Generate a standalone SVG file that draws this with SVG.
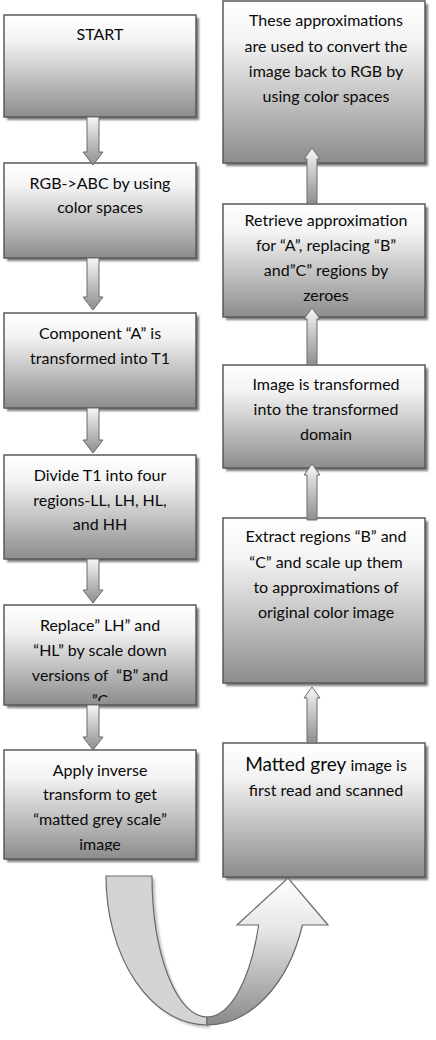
<svg xmlns="http://www.w3.org/2000/svg" width="436" height="1040" viewBox="0 0 436 1040">
  <style>
    .box { fill: url(#boxFill); stroke: #5a5a5a; stroke-width: 1.5; }
    .shadow { fill: #7a7a7a; filter: url(#soft); }
    .lbl { font-family: Lato, "Open Sans", "Liberation Sans", sans-serif; font-size: 16px; fill: #0a0a0a; text-anchor: middle; }
    .big { font-size: 19px; }
    .arrow { fill: url(#arrowFill); stroke: #6a6a6a; stroke-width: 1; }
  </style>
  <defs>
    <linearGradient id="boxFill" x1="0" y1="0" x2="0" y2="1">
      <stop offset="0" stop-color="#ffffff"/>
      <stop offset="0.25" stop-color="#f3f3f3"/>
      <stop offset="1" stop-color="#8c8c8c"/>
    </linearGradient>
    <linearGradient id="arrowFill" x1="0" y1="0" x2="0" y2="1">
      <stop offset="0" stop-color="#f6f6f6"/>
      <stop offset="1" stop-color="#8e8e8e"/>
    </linearGradient>
    <linearGradient id="curveFill" gradientUnits="userSpaceOnUse" x1="0" y1="878" x2="0" y2="1025">
      <stop offset="0" stop-color="#ffffff"/>
      <stop offset="0.35" stop-color="#e6e6e6"/>
      <stop offset="1" stop-color="#8a8a8a"/>
    </linearGradient>
    <filter id="soft" x="-10%" y="-10%" width="120%" height="120%">
      <feGaussianBlur stdDeviation="0.8"/>
    </filter>
    <clipPath id="clipReplace"><rect x="4" y="605" width="192" height="96"/></clipPath>
    <clipPath id="clipApply"><rect x="4" y="750" width="192" height="101"/></clipPath>
  </defs>

  <!-- left column -->
  <g id="start">
    <rect class="shadow" x="7" y="18" width="192" height="102"/>
    <rect class="box" x="4" y="15" width="192" height="102"/>
    <text class="lbl" x="100" y="40">START</text>
  </g>
  <g id="rgb-to-abc">
    <rect class="shadow" x="7" y="166" width="192" height="95"/>
    <rect class="box" x="4" y="163" width="192" height="95"/>
    <text class="lbl" x="100" y="189">RGB-&gt;ABC by using</text>
    <text class="lbl" x="100" y="213">color spaces</text>
  </g>
  <g id="component-a">
    <rect class="shadow" x="7" y="316" width="192" height="95"/>
    <rect class="box" x="4" y="313" width="192" height="95"/>
    <text class="lbl" x="100" y="339">Component “A” is</text>
    <text class="lbl" x="100" y="364">transformed into T1</text>
  </g>
  <g id="divide-t1">
    <rect class="shadow" x="7" y="458" width="192" height="104"/>
    <rect class="box" x="4" y="455" width="192" height="104"/>
    <text class="lbl" x="100" y="481">Divide T1 into four</text>
    <text class="lbl" x="100" y="506">regions-LL, LH, HL,</text>
    <text class="lbl" x="100" y="530">and HH</text>
  </g>
  <g id="replace">
    <rect class="shadow" x="7" y="608" width="192" height="100"/>
    <rect class="box" x="4" y="605" width="192" height="100"/>
    <g clip-path="url(#clipReplace)">
      <text class="lbl" x="100" y="631">Replace” LH” and</text>
      <text class="lbl" x="100" y="656">“HL” by scale down</text>
      <text class="lbl" x="100" y="681" xml:space="preserve">versions of  “B” and</text>
      <text class="lbl" x="100" y="706">”C</text>
    </g>
  </g>
  <g id="apply-inverse">
    <rect class="shadow" x="7" y="753" width="192" height="109"/>
    <rect class="box" x="4" y="750" width="192" height="109"/>
    <g clip-path="url(#clipApply)">
      <text class="lbl" x="100" y="776">Apply inverse</text>
      <text class="lbl" x="100" y="800">transform to get</text>
      <text class="lbl" x="100" y="825">“matted grey scale”</text>
      <text class="lbl" x="100" y="850">image</text>
    </g>
  </g>

  <!-- right column -->
  <g id="convert-back">
    <rect class="shadow" x="226" y="4" width="202" height="162"/>
    <rect class="box" x="223" y="1" width="202" height="162"/>
    <text class="lbl" x="326" y="26">These approximations</text>
    <text class="lbl" x="326" y="52">are used to convert the</text>
    <text class="lbl" x="326" y="77">image back to RGB by</text>
    <text class="lbl" x="326" y="102">using color spaces</text>
  </g>
  <g id="retrieve">
    <rect class="shadow" x="226" y="207" width="202" height="113"/>
    <rect class="box" x="223" y="204" width="202" height="113"/>
    <text class="lbl" x="326" y="226">Retrieve approximation</text>
    <text class="lbl" x="326" y="251">for “A”, replacing “B”</text>
    <text class="lbl" x="326" y="276">and”C” regions by</text>
    <text class="lbl" x="326" y="301">zeroes</text>
  </g>
  <g id="transform-domain">
    <rect class="shadow" x="226" y="368" width="202" height="103"/>
    <rect class="box" x="223" y="365" width="202" height="103"/>
    <text class="lbl" x="326" y="390">Image is transformed</text>
    <text class="lbl" x="326" y="415">into the transformed</text>
    <text class="lbl" x="326" y="440">domain</text>
  </g>
  <g id="extract">
    <rect class="shadow" x="226" y="521" width="202" height="165"/>
    <rect class="box" x="223" y="518" width="202" height="165"/>
    <text class="lbl" x="326" y="542">Extract regions “B” and</text>
    <text class="lbl" x="326" y="568">“C” and scale up them</text>
    <text class="lbl" x="326" y="593">to approximations of</text>
    <text class="lbl" x="326" y="618">original color image</text>
  </g>
  <g id="read-scan">
    <rect class="shadow" x="226" y="746" width="202" height="134"/>
    <rect class="box" x="223" y="743" width="202" height="134"/>
    <text class="lbl" x="326" y="771"><tspan class="big">Matted grey</tspan> image is</text>
    <text class="lbl" x="326" y="796">first read and scanned</text>
  </g>

  <!-- connectors -->
  <g id="connectors">
    <path class="arrow" d="M87,117 L99,117 L99,152 L103,152 L93,165 L83,152 L87,152 Z"/>
    <path class="arrow" d="M87,258 L99,258 L99,297 L103,297 L93,310 L83,297 L87,297 Z"/>
    <path class="arrow" d="M87,408 L99,408 L99,440 L103,440 L93,453 L83,440 L87,440 Z"/>
    <path class="arrow" d="M87,559 L99,559 L99,590 L103,590 L93,603 L83,590 L87,590 Z"/>
    <path class="arrow" d="M87,705 L99,705 L99,737 L103,737 L93,750 L83,737 L87,737 Z"/>

    <path class="arrow" d="M307,204 L317,204 L317,159 L320,159 L312,148 L304,159 L307,159 Z"/>
    <path class="arrow" d="M307,365 L317,365 L317,319 L320,319 L312,308 L304,319 L307,319 Z"/>
    <path class="arrow" d="M307,520 L317,520 L317,475 L320,475 L312,464 L304,475 L307,475 Z"/>
    <path class="arrow" d="M307,743 L317,743 L317,698 L320,698 L312,687 L304,698 L307,698 Z"/>

    <!-- U-turn arrow from the last left step to the first right step -->
    <g id="u-turn">
      <path d="M109,879 L155,879 A55,141 0 0 0 210,1020 L210,1028 A101,149 0 0 1 109,879 Z" fill="#8a8a8a" opacity="0.5" filter="url(#soft)"/>
      <path d="M106,876 L152,876 A55,141 0 0 0 207,1017 L207,1025 A101,149 0 0 1 106,876 Z" fill="#d4d4d4" stroke="#6a6a6a" stroke-width="1.2"/>
      <path d="M207,1017 A55,141 0 0 0 258.6,925 L237,925 L288,878 L328,925 L302.4,925 A101,149 0 0 1 207,1025 Z" fill="url(#curveFill)" stroke="#6a6a6a" stroke-width="1.2"/>
    </g>
  </g>
</svg>
